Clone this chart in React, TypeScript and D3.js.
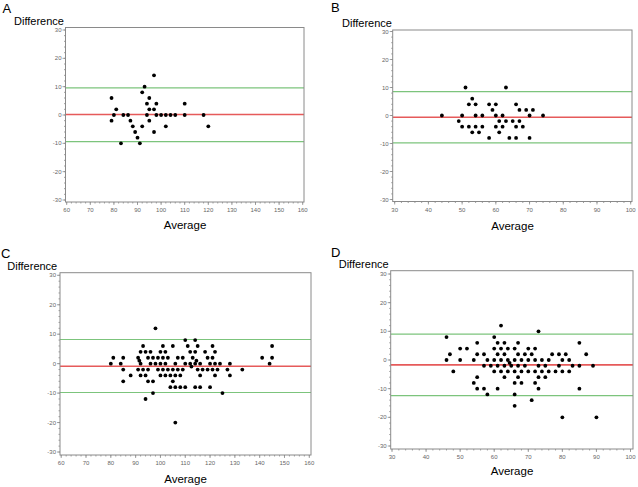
import React from "react";
import * as d3 from "d3";

// ---------- DATA ----------
const panelLetters = ["A", "B", "C", "D"];
const xTitle = "Average";
const yTitle = "Difference";
const yTicks = [-30, -20, -10, 0, 10, 20, 30];
const xTicksA = [60, 70, 80, 90, 100, 110, 120, 130, 140, 150, 160];
const xTicksB = [30, 40, 50, 60, 70, 80, 90, 100];
const xTicksC = [60, 70, 80, 90, 100, 110, 120, 130, 140, 150, 160];
const xTicksD = [30, 40, 50, 60, 70, 80, 90, 100];

// [mean, upper limit, lower limit]
const limitsA = [0.2, 9.6, -9.4];
const limitsB = [-0.6, 8.5, -9.8];
const limitsC = [-0.9, 8.2, -9.8];
const limitsD = [-1.7, 9.0, -12.4];

const pointsA: [number, number][] = [
  [79, 6], [79, -2], [80, 0], [81, 2], [83, -10], [84, 0], [86, 0], [87, -2], [88, -4],
  [89, -6], [90, -8], [91, -10], [92, 8], [92, -4], [93, 10], [94, 4], [94, 0], [95, 6],
  [95, 2], [95, -2], [97, 14], [97, 2], [97, -6], [98, 4], [98, 0], [100, 0], [102, 0],
  [102, -4], [104, 0], [106, 0], [110, 4], [110, 0], [118, 0], [120, -4],
];

const pointsB: [number, number][] = [
  [44, 0], [49, -2], [50, 0], [50, -4], [51, 10], [52, -4], [52, 4], [53, 6], [53, -6],
  [54, 4], [54, 0], [54, -4], [55, -6], [56, 0], [56, -4], [58, 4], [58, -8], [59, 2],
  [60, 4], [60, 0], [60, -4], [61, -2], [61, -6], [62, 0], [62, -4], [63, 10], [63, -2],
  [64, -8], [65, -2], [66, 4], [66, -4], [66, -8], [67, 2], [67, -2], [68, -4], [69, 2],
  [70, 0], [70, -8], [71, 2], [74, 0],
];

const pointsC: [number, number][] = [
  [80, 0], [81, 2], [84, 0], [85, 2], [85, -2], [85, -6], [88, -4], [91, 2], [91, -2],
  [91.5, 1], [92, 0], [92, 4], [92, -4], [93, 6], [93, -2], [94, 4], [94, -4], [94, -12],
  [95, 2], [95, -2], [95, -6], [96, 4], [96, 0], [97, 2], [97, -6], [97, -10], [98, 12],
  [98, 0], [99, 2], [99, -2], [100, 4], [100, 0], [100, -4], [101, 6], [101, 2], [101, -2],
  [102, 4], [102, 0], [102, -4], [103, 2], [103, -2], [104, -4], [104, -8], [105, 6],
  [105, -2], [105, -6], [106, 0], [106, -4], [106, -8], [106, -20], [107, 2], [107, -2],
  [108, -4], [108, -8], [109, 2], [109, -2], [110, 8], [110, 0], [110, -8], [111, 6],
  [112, 4], [112, 0], [112.5, -1], [113, 2], [114, 8], [114, 4], [114, 0], [114.5, 1],
  [114, -8], [115, 6], [115, -2], [116, 0], [116, -4], [116, -8], [117, -2], [118, 4],
  [119, 2], [119, -2], [120, 0], [120, -8], [121, 6], [121, 2], [121, -2], [122, 4],
  [122, 0], [122, -4], [123, -2], [124, 0], [125, -10], [127, -2], [128, 0], [128, -4],
  [133, -2], [141, 2], [144, 0], [145, 6], [145, 2],
];

const pointsD: [number, number][] = [
  [46, 8], [46, 0], [47, 2], [48, -4], [50, 4], [50, 0], [52, 4], [54, 0], [54, -8],
  [55, 6], [55, 2], [55, -6], [55, -10], [57, 2], [57, -2], [57, -10], [58, 0], [58, -12],
  [59, -2], [60, 8], [60, 4], [60, 0], [60, -4], [61, 6], [61, 2], [61, -2], [61, -10],
  [62, 12], [62, 4], [62, 0], [62, -4], [63, 6], [63, 2], [63, -2], [63, -6], [64, 4],
  [64, 0], [64, -4], [64.5, -1], [65, -2], [66, 4], [66, 0], [66, -4], [66, -8], [66, -12],
  [66, -16], [67, 6], [67, 2], [67, -2], [67, -6], [68, 0], [68, -4], [68, -8], [69, 2],
  [69, -2], [70, 4], [70, 0], [70, -4], [71, 2], [71, -14], [72, 4], [72, 0], [72, -4],
  [72, -8], [73, 10], [73, -2], [73, -6], [73, -10], [74, 0], [74, -4], [75, -2], [75, -6],
  [76, 0], [76, -4], [77, 2], [78, -4], [79, 2], [79, -2], [80, 0], [80, -4], [80, -20],
  [81, 2], [82, 0], [82, -4], [83, -2], [85, 6], [85, -2], [85, -10], [87, 2], [89, -2],
  [90, -20],
];

// ---------- LAYOUT ----------
type Layout = {
  box: [number, number, number, number]; // left, right, top, bottom
  xr: [number, number];
  yr: [number, number];
  letter: [number, number];
  ytitle: [number, number];
  xtitle: [number, number];
};

const layouts: Layout[] = [
  { box: [65.5, 304, 27.5, 202], xr: [66.7, 302.7], yr: [200, 30], letter: [2.5, 13], ytitle: [14, 25], xtitle: [185, 228.5] },
  { box: [392.7, 632, 30, 201.5], xr: [394.7, 630.7], yr: [199.5, 31.5], letter: [331, 12], ytitle: [342, 27], xtitle: [512.5, 229.5] },
  { box: [60, 311, 272.7, 455], xr: [61.2, 309.3], yr: [452, 275.3], letter: [1, 257.5], ytitle: [7.3, 270], xtitle: [185.5, 483] },
  { box: [390.7, 633, 270.7, 449], xr: [392, 630.5], yr: [446, 274], letter: [331, 256.5], ytitle: [338.7, 267.5], xtitle: [512, 475] },
];

const panels = [
  { pts: pointsA, lim: limitsA, xt: xTicksA },
  { pts: pointsB, lim: limitsB, xt: xTicksB },
  { pts: pointsC, lim: limitsC, xt: xTicksC },
  { pts: pointsD, lim: limitsD, xt: xTicksD },
];

const AXIS = "#8a8a8a";
const TICKTXT = "#666";
const FONT = "'Liberation Sans', Arial, sans-serif";

function Panel({ i }: { i: number }) {
  const L = layouts[i];
  const P = panels[i];
  const xDom: [number, number] = [P.xt[0], P.xt[P.xt.length - 1]];
  const x = d3.scaleLinear().domain(xDom).range(L.xr);
  const y = d3.scaleLinear().domain([-30, 30]).range(L.yr);
  const [bl, br, bt, bb] = L.box;
  const xMinor = d3.range(xDom[0], xDom[1] + 0.001, 2);
  const yMinor = d3.range(-30, 30.001, 2);
  return (
    <g>
      <text x={L.letter[0]} y={L.letter[1]} fontSize={13} fontFamily={FONT} fill="#000">
        {panelLetters[i]}
      </text>
      <text x={L.ytitle[0]} y={L.ytitle[1]} fontSize={11} fontFamily={FONT} fill="#000">
        {yTitle}
      </text>
      <text x={L.xtitle[0]} y={L.xtitle[1]} fontSize={11.5} fontFamily={FONT} fill="#000" textAnchor="middle">
        {xTitle}
      </text>
      {/* reference lines */}
      <line x1={bl} x2={br} y1={y(P.lim[1])} y2={y(P.lim[1])} stroke="#7cc47c" strokeWidth={1.2} />
      <line x1={bl} x2={br} y1={y(P.lim[2])} y2={y(P.lim[2])} stroke="#7cc47c" strokeWidth={1.2} />
      <line x1={bl} x2={br} y1={y(P.lim[0])} y2={y(P.lim[0])} stroke="#e65a5a" strokeWidth={1.6} />
      {/* frame */}
      <rect x={bl} y={bt} width={br - bl} height={bb - bt} fill="none" stroke={AXIS} strokeWidth={1} />
      {/* y ticks */}
      {yMinor.map((v) => (
        <line key={"ym" + v} x1={bl} x2={bl - 1.5} y1={y(v)} y2={y(v)} stroke={AXIS} strokeWidth={0.8} />
      ))}
      {yTicks.map((v) => (
        <g key={"yt" + v}>
          <line x1={bl} x2={bl - 3} y1={y(v)} y2={y(v)} stroke={AXIS} strokeWidth={0.8} />
          <text x={bl - 4} y={y(v) + 2} fontSize={6} fontFamily={FONT} fill={TICKTXT} textAnchor="end">
            {v}
          </text>
        </g>
      ))}
      {/* x ticks */}
      {xMinor.map((v) => (
        <line key={"xm" + v} x1={x(v)} x2={x(v)} y1={bb} y2={bb + 1.5} stroke={AXIS} strokeWidth={0.8} />
      ))}
      {P.xt.map((v) => (
        <g key={"xt" + v}>
          <line x1={x(v)} x2={x(v)} y1={bb} y2={bb + 3} stroke={AXIS} strokeWidth={0.8} />
          <text x={x(v)} y={bb + 10} fontSize={6} fontFamily={FONT} fill={TICKTXT} textAnchor="middle">
            {v}
          </text>
        </g>
      ))}
      {/* points */}
      {P.pts.map((p, k) => (
        <circle key={k} cx={x(p[0])} cy={y(p[1])} r={1.9} fill="#000" />
      ))}
    </g>
  );
}

export default function App() {
  return (
    <svg
      width={638}
      height={487}
      style={{ position: "absolute", left: 0, top: 0, background: "#fff" }}
    >
      <rect x={0} y={0} width={638} height={487} fill="#fff" />
      {[0, 1, 2, 3].map((i) => (
        <Panel key={i} i={i} />
      ))}
    </svg>
  );
}
